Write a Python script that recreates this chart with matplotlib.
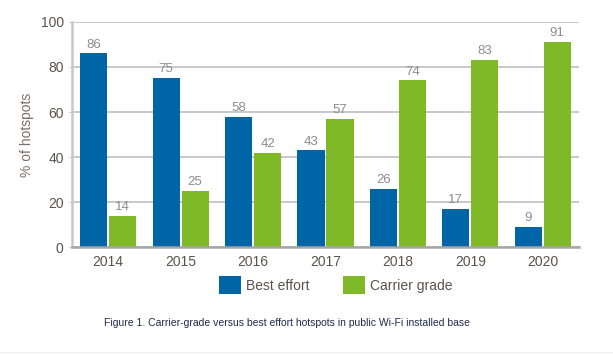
import matplotlib
matplotlib.use("Agg")
import matplotlib.pyplot as plt
from matplotlib.patches import Patch
import numpy as np

years = ["2014", "2015", "2016", "2017", "2018", "2019", "2020"]
best_effort = [86, 75, 58, 43, 26, 17, 9]
carrier_grade = [14, 25, 42, 57, 74, 83, 91]
yticks = [0, 20, 40, 60, 80, 100]

BLUE = "#0065a6"
GREEN = "#80b927"

plt.rcParams['font.family'] = ['Liberation Sans', 'DejaVu Sans']

fig = plt.figure(figsize=(6.13, 3.54), dpi=100)
ax = fig.add_axes([0.1175, 0.302, 0.827, 0.636])

x = np.arange(len(years))
w = 0.375
off = 0.2
b1 = ax.bar(x - off, best_effort, w, color=BLUE, zorder=3)
b2 = ax.bar(x + off, carrier_grade, w, color=GREEN, zorder=3)

for rect, v in zip(list(b1) + list(b2), best_effort + carrier_grade):
    ax.annotate(str(v), (rect.get_x() + rect.get_width() / 2, v),
                xytext=(0, 2), textcoords="offset points",
                ha="center", va="bottom", fontsize=9.5, color="#8c8c8c")

ax.set_xlim(-0.5, len(years) - 0.5)
ax.set_ylim(0, 100)
ax.set_yticks(yticks)
ax.set_xticks(x)
ax.set_xticklabels(years)
ax.yaxis.grid(True, color="#c8c8c8", linewidth=1.4, zorder=0)
ax.set_axisbelow(True)
for s in ["top", "right"]:
    ax.spines[s].set_visible(False)
ax.spines["left"].set_color("#c8c8c8")
ax.spines["left"].set_linewidth(1.8)
ax.spines["bottom"].set_color("#a6a6a6")
ax.spines["bottom"].set_linewidth(1.8)
ax.spines["bottom"].set_zorder(4)
ax.tick_params(axis="y", length=2, color="#c8c8c8", labelsize=10, labelcolor="#5a5250", pad=4)
ax.tick_params(axis="x", length=0, labelsize=10, labelcolor="#5a5250", pad=6)
ax.set_ylabel("% of hotspots", fontsize=10, color="#7a6e66", labelpad=5)

handles = [Patch(facecolor=BLUE, label="Best effort"),
           Patch(facecolor=GREEN, label="Carrier grade")]
fig.legend(handles=handles, loc="center", bbox_to_anchor=(0.548, 0.195), ncol=2,
           frameon=False, fontsize=10, handlelength=1.6, handleheight=1.6,
           handletextpad=0.35, columnspacing=2.4, labelcolor="#5a5250")

fig.text(0.468, 0.088, "Figure 1. Carrier-grade versus best effort hotspots in public Wi-Fi installed base",
         ha="center", va="center", fontsize=7.5, color="#1f2a4a")
fig.add_artist(plt.Line2D([0, 1], [0.006, 0.006], color="#efefef", linewidth=1))

fig.savefig("out.png", dpi=100)
